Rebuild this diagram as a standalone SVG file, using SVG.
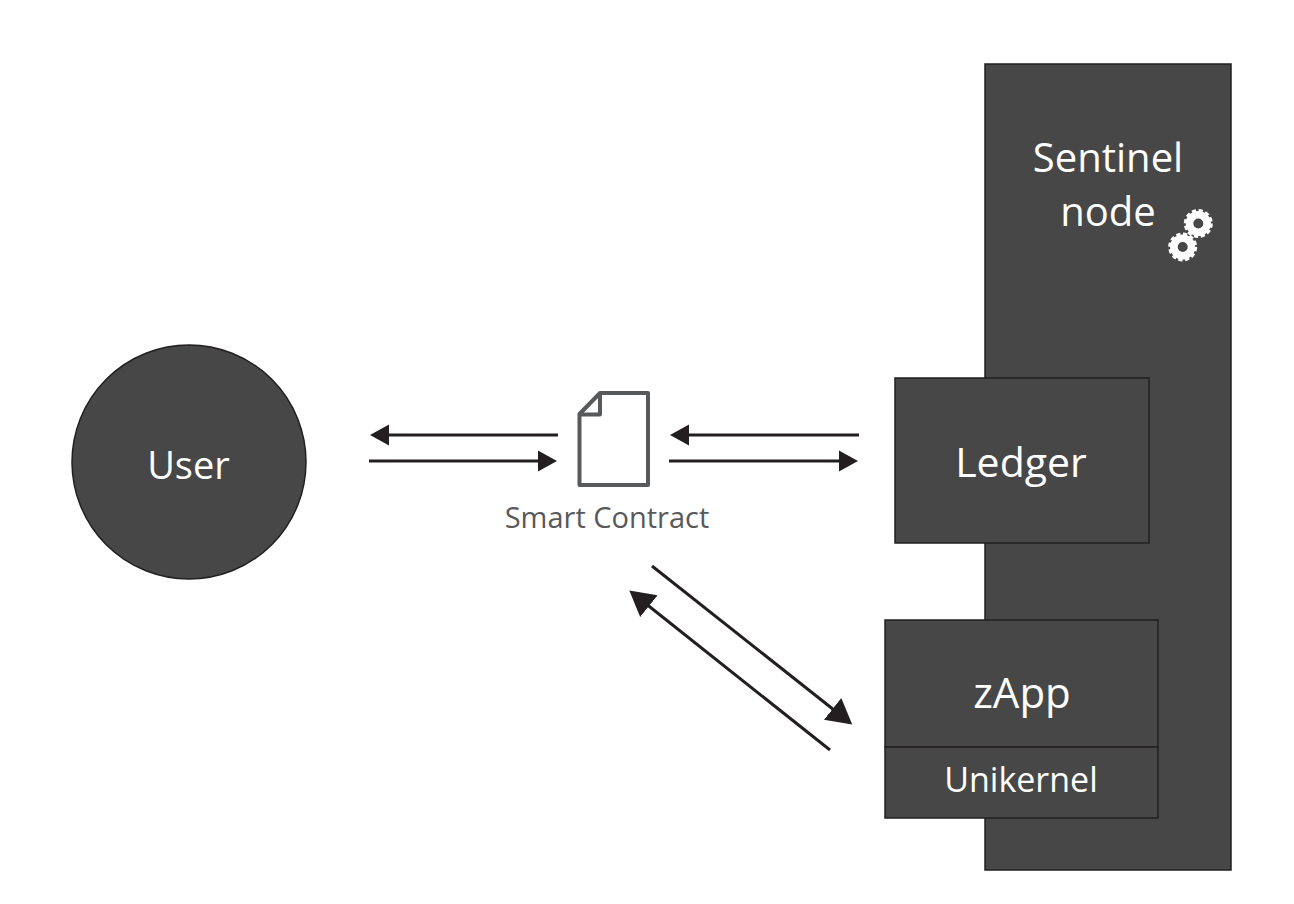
<svg xmlns="http://www.w3.org/2000/svg" width="1294" height="904" viewBox="0 0 1294 904">
<defs>
<marker id="a" markerUnits="userSpaceOnUse" markerWidth="22" markerHeight="24" refX="1" refY="12" orient="auto"><path d="M0 1.500 L19 12 L0 22.500 Z" fill="#231f20"/></marker>
<marker id="b" markerUnits="userSpaceOnUse" markerWidth="27" markerHeight="32" refX="1" refY="16" orient="auto"><path d="M0 2 L25 16 L0 30 Z" fill="#231f20"/></marker>
<g id="gear" fill="none" stroke="#fff"><circle r="8.8" stroke-width="7.600"/><circle r="13" stroke-width="3" stroke-dasharray="4.200 2.600"/></g>
</defs>
<style>
.box{fill:#474747;stroke:#231f20;stroke-width:1.5}
.w{fill:#fff;font-family:"Open Sans","Noto Sans",sans-serif;text-anchor:middle}
.c{stroke:#231f20;stroke-width:3;fill:none}
</style>
<rect width="1294" height="904" fill="#fff"/>
<g id="sentinel"><rect class="box" x="985" y="64" width="246" height="806"/>
<text class="w" font-size="40" x="1108" y="172">Sentinel</text><text class="w" font-size="40" x="1108" y="226">node</text>
<use href="#gear" x="1198.300" y="223.500"/><use href="#gear" x="1182.700" y="247"/></g>
<g id="user"><circle class="box" cx="189" cy="462" r="117"/><text class="w" font-size="38" x="188.500" y="479">User</text></g>
<g id="ledger"><rect class="box" x="895" y="378" width="254" height="165"/><text class="w" font-size="41" x="1021" y="477">Ledger</text></g>
<g id="zapp"><rect class="box" x="885" y="620" width="273" height="127"/><text class="w" font-size="42" x="1022" y="708">zApp</text></g>
<g id="unikernel"><rect class="box" x="885" y="747" width="273" height="71"/><text class="w" font-size="34" x="1021" y="792">Unikernel</text></g>
<g id="contract"><path d="M600 393 H648 V485 H579.500 V414 Z M579.500 414.500 H600 V393" fill="none" stroke="#58595b" stroke-width="4" stroke-linejoin="round"/>
<text font-family="'Open Sans','Noto Sans',sans-serif" font-size="29" fill="#58595b" text-anchor="middle" x="607" y="528">Smart Contract</text></g>
<g id="connectors">
<path class="c" d="M558 435 H388" marker-end="url(#a)"/>
<path class="c" d="M369 461 H539" marker-end="url(#a)"/>
<path class="c" d="M859 435 H688" marker-end="url(#a)"/>
<path class="c" d="M669 461 H840" marker-end="url(#a)"/>
<path class="c" d="M652 566 L833.400 709.500" marker-end="url(#b)"/>
<path class="c" d="M830 750 L648.100 605.500" marker-end="url(#b)"/>
</g>
</svg>
